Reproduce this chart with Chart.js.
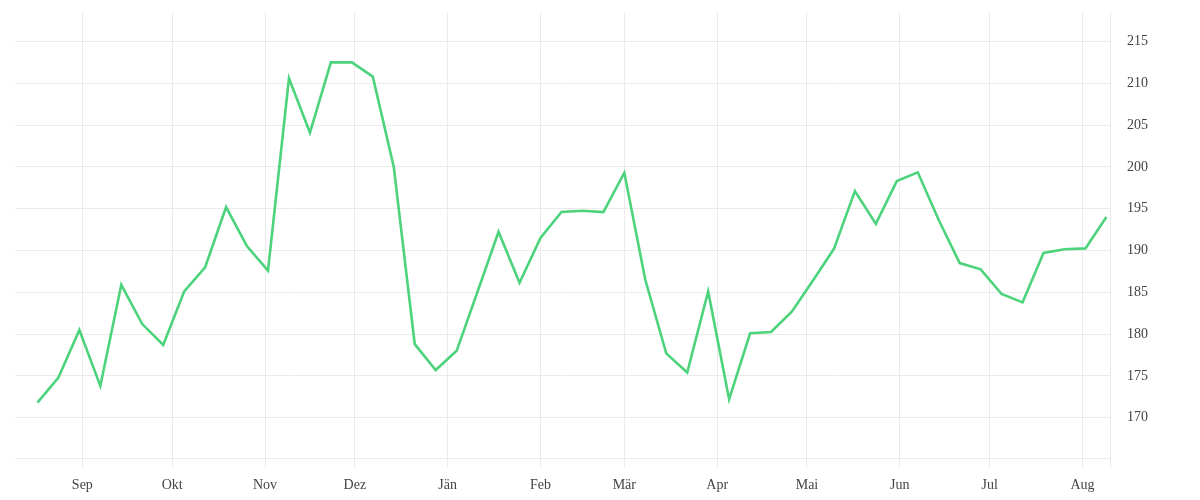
<!DOCTYPE html>
<html>
<head>
<meta charset="utf-8">
<script src="https://cdn.jsdelivr.net/npm/chart.js@4/dist/chart.umd.min.js"></script>
<style>
  html, body { margin: 0; padding: 0; background: #ffffff; }
  #wrap { width: 1200px; height: 500px; }
</style>
</head>
<body>
<div id="wrap"><canvas id="c" width="1200" height="500"></canvas></div>
<script>
// Weekly dates of the observations
const dates = [
  '2022-08-17','2022-08-24','2022-08-31','2022-09-07','2022-09-14','2022-09-21','2022-09-28',
  '2022-10-05','2022-10-12','2022-10-19','2022-10-26','2022-11-02','2022-11-09','2022-11-16',
  '2022-11-23','2022-11-30','2022-12-07','2022-12-14','2022-12-21','2022-12-28','2023-01-04',
  '2023-01-11','2023-01-18','2023-01-25','2023-02-01','2023-02-08','2023-02-15','2023-02-22',
  '2023-03-01','2023-03-08','2023-03-15','2023-03-22','2023-03-29','2023-04-05','2023-04-12',
  '2023-04-19','2023-04-26','2023-05-03','2023-05-10','2023-05-17','2023-05-24','2023-05-31',
  '2023-06-07','2023-06-14','2023-06-21','2023-06-28','2023-07-05','2023-07-12','2023-07-19',
  '2023-07-26','2023-08-02','2023-08-09'
];
// Series values
const values = [
  171.8, 174.8, 180.5, 173.8, 185.9, 181.2, 178.7,
  185.1, 188.0, 195.2, 190.5, 187.6, 210.6, 204.1,
  212.5, 212.5, 210.8, 200.0, 178.8, 175.7, 178.0,
  185.1, 192.25, 186.15, 191.5, 194.6, 194.75, 194.6,
  199.3, 186.5, 177.7, 175.4, 185.1, 172.2, 180.1,
  180.25, 182.7, 186.4, 190.2, 197.1, 193.2, 198.3,
  199.35, 193.65, 188.5, 187.75, 184.8, 183.8, 189.7,
  190.15, 190.25, 194.0
];
// X tick positions (month starts) and labels
const monthTicks = ['2022-09-01','2022-10-01','2022-11-01','2022-12-01','2023-01-01','2023-02-01',
                    '2023-03-01','2023-04-01','2023-05-01','2023-06-01','2023-07-01','2023-08-01'];
const monthLabels = ['Sep','Okt','Nov','Dez','Jän','Feb','Mär','Apr','Mai','Jun','Jul','Aug'];
// Y tick values
const yTicks = [170, 175, 180, 185, 190, 195, 200, 205, 210, 215];

const DAY = 86400000;
function dayNum(s) {
  const p = s.split('-').map(Number);
  return Date.UTC(p[0], p[1] - 1, p[2]) / DAY;
}

const GRID = '#ebebeb';
const TEXT = '#444444';
const FONT = { family: '"Liberation Serif", serif', size: 14 };

const points = dates.map((d, i) => ({ x: dayNum(d), y: values[i] }));
const monthDays = monthTicks.map(dayNum);

new Chart(document.getElementById('c'), {
  type: 'line',
  data: {
    datasets: [{
      data: points,
      borderColor: '#4cd37b',
      borderWidth: 2.6,
      pointRadius: 0,
      pointHoverRadius: 0,
      tension: 0,
      fill: false
    }]
  },
  options: {
    responsive: false,
    animation: false,
    layout: { padding: { left: 15, top: 12, right: 0, bottom: 0 } },
    plugins: { legend: { display: false }, tooltip: { enabled: false } },
    scales: {
      x: {
        type: 'linear',
        min: dayNum('2022-08-09') + 0.5,
        max: dayNum('2023-08-10') + 0.2,
        afterBuildTicks: (s) => {
          s.ticks = monthDays.map(v => ({ value: v })).concat([{ value: s.max }]);
        },
        afterFit: (s) => { s.height = 42; s.paddingLeft = 0; s.paddingRight = 0; },
        ticks: {
          autoSkip: false,
          maxRotation: 0,
          padding: 9,
          color: TEXT,
          font: FONT,
          callback: (v) => {
            const i = monthDays.indexOf(v);
            return i >= 0 ? monthLabels[i] : '';
          }
        },
        grid: { color: GRID, lineWidth: 1, tickLength: 10, drawTicks: true },
        border: { display: true, color: GRID }
      },
      y: {
        position: 'right',
        min: 165.18,
        max: 218.53,
        afterBuildTicks: (s) => { s.ticks = yTicks.map(v => ({ value: v })); },
        afterFit: (s) => { s.width = 90; s.paddingTop = 0; s.paddingBottom = 0; },
        ticks: { padding: 17, color: TEXT, font: FONT },
        grid: { color: GRID, lineWidth: 1, drawTicks: false },
        border: { display: true, color: GRID }
      }
    }
  }
});
</script>
</body>
</html>
